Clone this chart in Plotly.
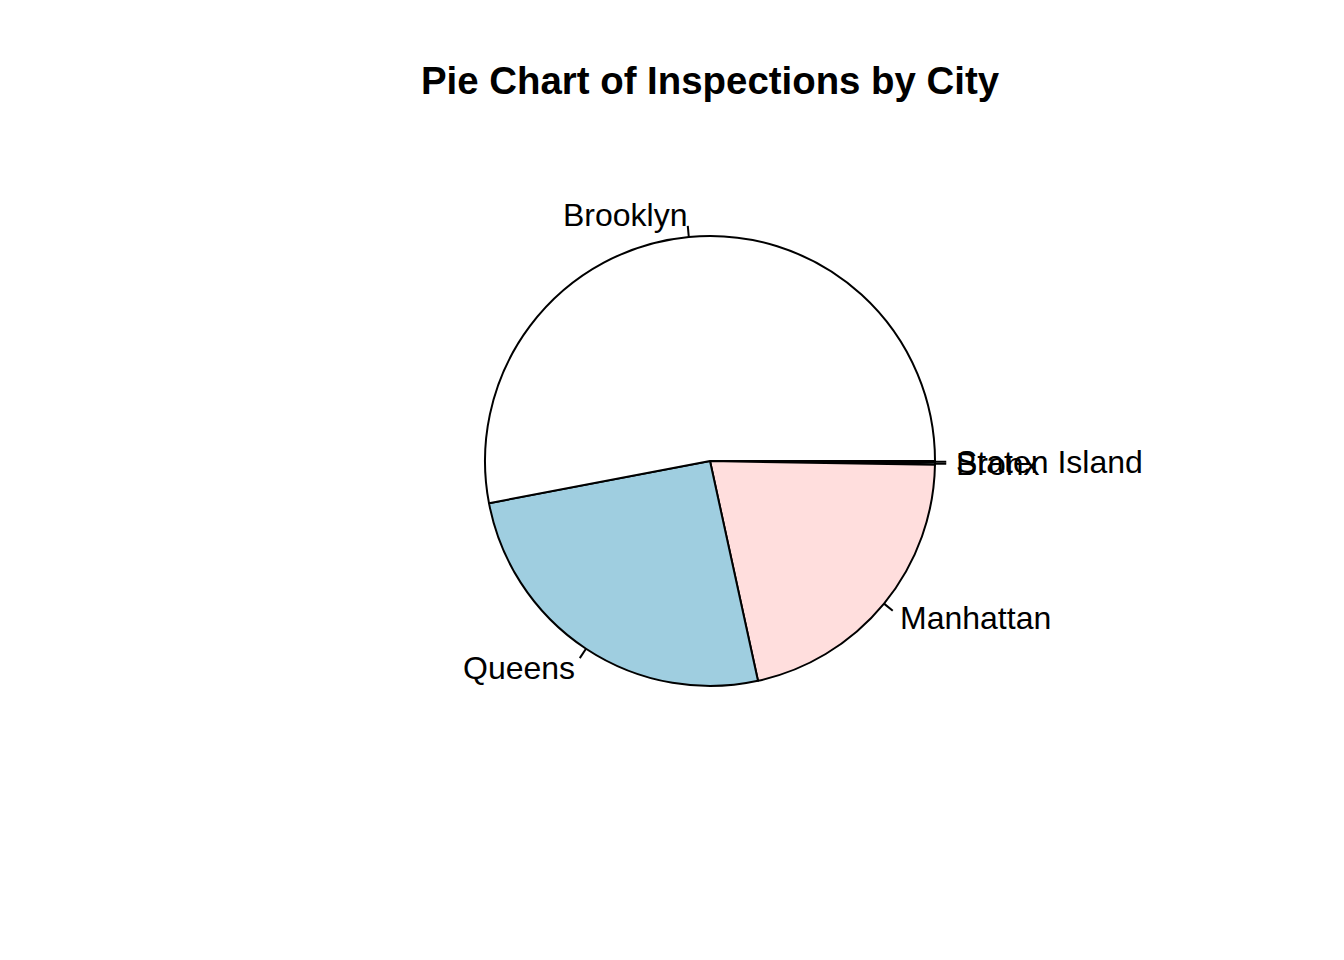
import math
import plotly.graph_objects as go

# Data, in R's plotting order (counter-clockwise from 3 o'clock)
cities = ["Brooklyn", "Queens", "Manhattan", "Bronx", "Staten Island"]
inspections = [5300, 2542, 2131, 16, 11]
slice_colors = ["#FFFFFF", "#9FCEE0", "#FFDEDD", "#E0FFFF", "#E6E6FA"]

OFF = 8  # page body margin
W, H = 1344 - 2 * OFF, 960 - 2 * OFF
CX, CY, R = 710 - OFF, 461 - OFF, 225  # pie centre and radius in figure pixels
FONT = "Liberation Sans, Arial, Helvetica, sans-serif"

fig = go.Figure()

# Plotly draws clockwise; reversing the order reproduces R's counter-clockwise layout from 3 o'clock
fig.add_trace(go.Pie(
    labels=cities[::-1],
    values=inspections[::-1],
    marker=dict(colors=slice_colors[::-1], line=dict(color="black", width=2)),
    sort=False,
    direction="clockwise",
    rotation=90,
    textinfo="none",
    hoverinfo="label+value",
    showlegend=False,
    domain=dict(x=[(CX - R) / W, (CX + R) / W], y=[1 - (CY + R) / H, 1 - (CY - R) / H]),
))

total = sum(inspections)
cum = 0.0
shapes, annotations = [], []
for name, v in zip(cities, inspections):
    mid = 2 * math.pi * (cum + v / 2) / total
    cum += v
    c, s = math.cos(mid), math.sin(mid)
    # tick line from r to 1.05 r
    shapes.append(dict(
        type="line", xref="paper", yref="paper",
        x0=(CX + R * c) / W, y0=1 - (CY - R * s) / H,
        x1=(CX + 1.05 * R * c) / W, y1=1 - (CY - 1.05 * R * s) / H,
        line=dict(color="black", width=2),
    ))
    annotations.append(dict(
        text=name, showarrow=False, xref="paper", yref="paper",
        x=(CX + 1.1 * R * c) / W, y=1 - (CY - 1.1 * R * s) / H,
        xanchor="left" if c > 0 else "right", yanchor="middle",
        xshift=-3 if c > 0 else 3, yshift=0,
        font=dict(family=FONT, size=32, color="black"),
    ))

annotations.append(dict(
    text="<b>Pie Chart of Inspections by City</b>", showarrow=False,
    xref="paper", yref="paper", x=CX / W, y=1 - (80 - OFF) / H,
    xanchor="center", yanchor="middle",
    font=dict(family=FONT, size=38.4, color="black"),
))

fig.update_layout(
    width=W, height=H, autosize=False,
    margin=dict(l=0, r=0, t=0, b=0),
    paper_bgcolor="white", plot_bgcolor="white",
    shapes=shapes, annotations=annotations,
)

fig.write_html("out.html")
